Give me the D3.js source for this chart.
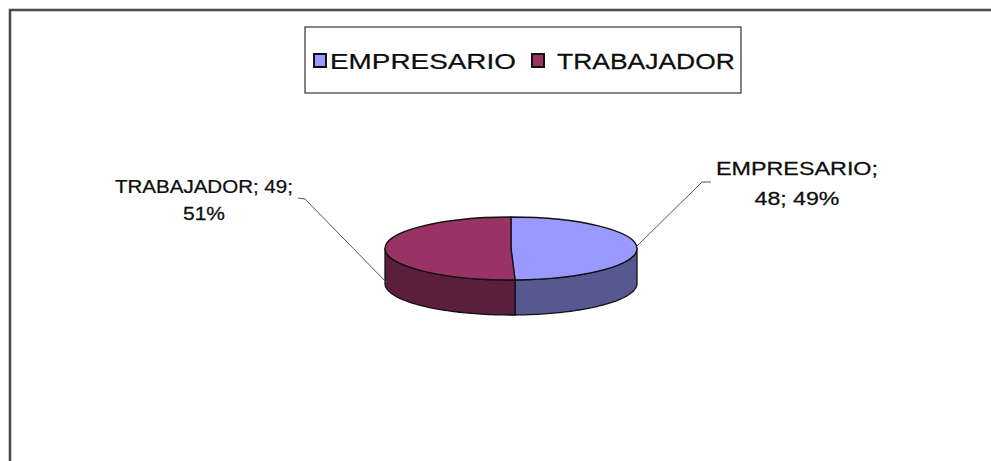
<!DOCTYPE html>
<html><head><meta charset="utf-8">
<script src="https://cdn.jsdelivr.net/npm/d3@7"></script>
<style>body{margin:0;background:#fff}svg{display:block}</style>
</head><body><svg id="c" width="991" height="461"></svg>
<script>
const categories = ["EMPRESARIO", "TRABAJADOR"];
const values = [48, 49];
const percents = ["49%", "51%"];
const topColors = ["#9999ff", "#993366"];
const sideColors = ["#56588f", "#5b1e3c"];

const svg = d3.select("#c");
const W = 991, H = 461;
svg.append("rect").attr("width", W).attr("height", H).attr("fill", "#fff");
svg.append("rect").attr("x", 10).attr("y", 10).attr("width", 1000).attr("height", 500)
  .attr("fill", "none").attr("stroke", "#9a9a9a").attr("stroke-width", 3);
svg.append("rect").attr("x", 10).attr("y", 10).attr("width", 1000).attr("height", 500)
  .attr("fill", "none").attr("stroke", "#222").attr("stroke-width", 1.3);

function fitText(parent, str, x, y, width, size, anchor) {
  const t = parent.append("text").text(str)
    .attr("font-family", "Liberation Sans, Arial, sans-serif").attr("font-size", size)
    .attr("fill", "#0d0d0d").attr("stroke", "#0d0d0d").attr("stroke-width", 0.25);
  const len = t.node().getComputedTextLength();
  const k = width / len;
  const left = anchor === "middle" ? x - width / 2 : x;
  t.attr("transform", `translate(${left},${y}) scale(${k},1)`);
  return t;
}

// legend
const lg = svg.append("g");
lg.append("rect").attr("x", 305).attr("y", 27).attr("width", 436).attr("height", 66)
  .attr("fill", "#fff").attr("stroke", "#333").attr("stroke-width", 1.2);
const legX = [314, 532], legTextX = [330, 557], legW = [186, 178];
categories.forEach((c, i) => {
  lg.append("rect").attr("x", legX[i]).attr("y", 54).attr("width", 12).attr("height", 13)
    .attr("fill", topColors[i]).attr("stroke", "#111").attr("stroke-width", 2);
  fitText(lg, c, legTextX[i], 69, legW[i], 22.5, "start");
});

// 3D pie
const cx = 511, cy = 248.5, rx = 126, ry = 31.5, depth = 35;
const pie = d3.pie().sort(null).value(d => d)(values);
const pt = (a, dy = 0) => [cx + rx * Math.sin(a), cy - ry * Math.cos(a) + dy];
const line = d3.line();

pie.forEach((p, i) => {
  const a0 = Math.max(p.startAngle, Math.PI / 2), a1 = Math.min(p.endAngle, 3 * Math.PI / 2);
  if (a1 <= a0) return;
  const angs = d3.range(0, 61).map(k => a0 + (a1 - a0) * k / 60);
  const pts = angs.map(a => pt(a)).concat(angs.slice().reverse().map(a => pt(a, depth)));
  svg.append("path").attr("d", line(pts) + "Z")
    .attr("fill", sideColors[i]).attr("stroke", "#111").attr("stroke-width", 1.3).attr("stroke-linejoin", "round");
});

const arc = d3.arc().innerRadius(0).outerRadius(rx);
const topG = svg.append("g").attr("transform", `translate(${cx},${cy}) scale(1,${ry / rx})`);
pie.forEach((p, i) => {
  topG.append("path").attr("d", arc(p)).attr("fill", topColors[i])
    .attr("stroke", "#111").attr("stroke-width", 1.3).attr("vector-effect", "non-scaling-stroke")
    .attr("stroke-linejoin", "round");
});

// leader lines
svg.append("path").attr("d", line([[711, 182], [702, 182], [637, 246]]))
  .attr("fill", "none").attr("stroke", "#555").attr("stroke-width", 1);
svg.append("path").attr("d", line([[298, 198], [305, 199], [387, 283]]))
  .attr("fill", "none").attr("stroke", "#555").attr("stroke-width", 1);

// data labels
const labels = [
  { lines: [categories[0] + ";", values[0] + "; " + percents[0]], x: 797, y: [175, 205], w: [162, 85] },
  { lines: [categories[1] + "; " + values[1] + ";", percents[1]], x: 204, y: [193, 220], w: [178, 42] }
];
labels.forEach(l => {
  l.lines.forEach((t, j) => fitText(svg, t, l.x, l.y[j], l.w[j], 18.5, "middle"));
});
</script></body></html>
